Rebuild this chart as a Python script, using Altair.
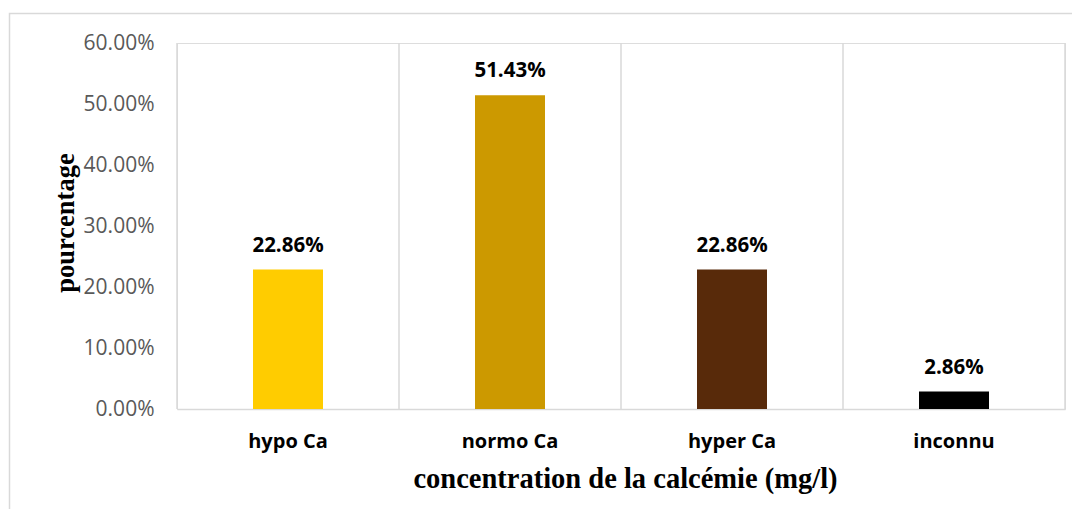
import altair as alt
import pandas as pd

categories = ["hypo Ca", "normo Ca", "hyper Ca", "inconnu"]
values = [0.2286, 0.5143, 0.2286, 0.0286]
labels = ["22.86%", "51.43%", "22.86%", "2.86%"]
colors = ["#FFCC00", "#CC9900", "#582A0A", "#000000"]
y_ticks = [0, 0.1, 0.2, 0.3, 0.4, 0.5, 0.6]

df = pd.DataFrame({"cat": categories, "val": values, "lab": labels})
sep_df = pd.DataFrame({"cat": categories})

W, H = 888, 366

x_scale = alt.Scale(domain=categories, paddingInner=0, paddingOuter=0)

x_enc = alt.X(
    "cat:N", sort=categories, scale=x_scale,
    axis=alt.Axis(
        title="concentration de la calcémie (mg/l)",
        grid=False, ticks=False, domainColor="#D9D9D9", domainWidth=1.5,
        labelFont="Open Sans", labelFontSize=20, labelFontWeight="bold",
        labelColor="#000000", labelAngle=0, labelAlign="center",
        labelBaseline="alphabetic", labelPadding=38,
        titleFont="Liberation Serif", titleFontSize=28.5, titleFontWeight="bold",
        titleColor="#000000", titleX=448, titleY=78, titleAlign="center",
        titleBaseline="alphabetic",
    ),
)

y_enc = alt.Y(
    "val:Q", scale=alt.Scale(domain=[0, 0.6]),
    axis=alt.Axis(
        values=y_ticks, format=".2%", grid=False, domain=False, ticks=False,
        labelFont="Open Sans", labelFontSize=21, labelColor="#595959", labelPadding=23,
        title="pourcentage", titleFont="Liberation Serif", titleFontSize=26.5,
        titleFontWeight="bold", titleColor="#000000", titleAngle=270,
        titleX=-104, titleY=179.5, titleAlign="center", titleBaseline="alphabetic",
    ),
)

border = alt.Chart(alt.Data(values=[{}])).mark_rect(
    fill=None, stroke="#D9D9D9", strokeWidth=1.5
).encode(
    x=alt.value(-167.5), x2=alt.value(1000), y=alt.value(-29.5), y2=alt.value(800)
)

separators = alt.Chart(sep_df).mark_rule(color="#D9D9D9", strokeWidth=1.5).encode(
    x=alt.X("cat:N", sort=categories, scale=x_scale, bandPosition=0),
    y=alt.value(0), y2=alt.value(H),
)

right_edge = alt.Chart(alt.Data(values=[{}])).mark_rule(
    color="#D9D9D9", strokeWidth=1.5
).encode(x=alt.value(W), y=alt.value(0), y2=alt.value(H))

bars = alt.Chart(df).mark_bar(size=70).encode(
    x=x_enc, y=y_enc,
    color=alt.Color("cat:N", scale=alt.Scale(domain=categories, range=colors), legend=None),
)

text = alt.Chart(df).mark_text(
    dy=-18, baseline="alphabetic", font="Open Sans", fontSize=20.5,
    fontWeight="bold", color="#000000"
).encode(x=x_enc, y=y_enc, text="lab:N")

chart = alt.layer(border, separators, right_edge, bars, text).properties(
    width=W, height=H,
    autosize=alt.AutoSizeParams(type="none"),
    padding={"left": 169, "top": 35, "right": 7, "bottom": 100},
).configure_view(stroke=None).configure(background="white")

chart.save("out.html", embed_options={"renderer": "svg", "actions": False})
